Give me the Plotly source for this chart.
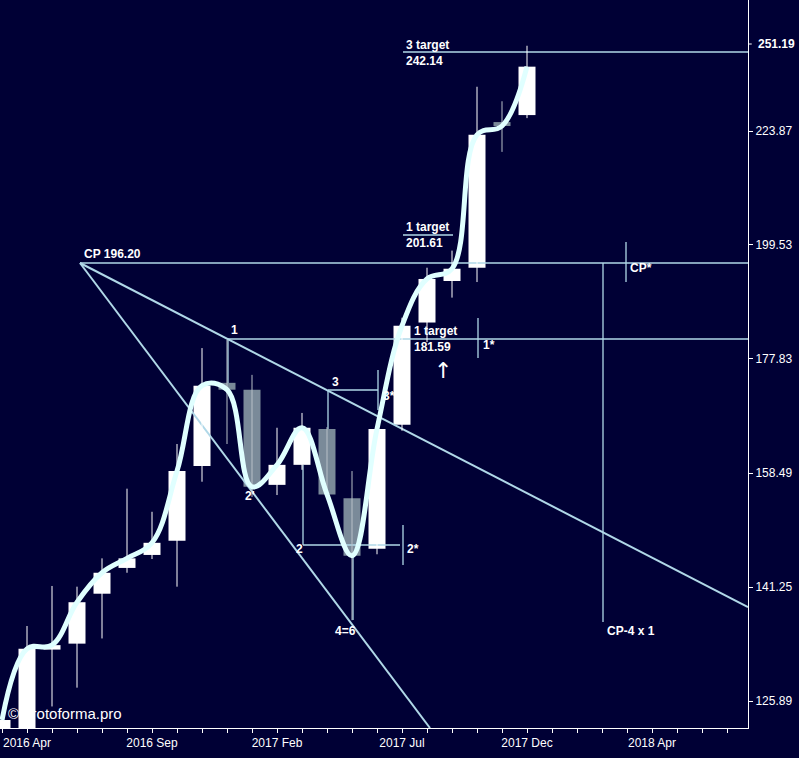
import math
import plotly.graph_objects as go

months = list(range(-1, 21))
opens  = [121.0, 121.0, 132.6, 133.4, 140.3, 144.0, 145.9, 148.0, 159.6, 173.6, 172.4, 156.6, 159.8, 165.7, 154.5, 146.8, 166.4, 184.5, 192.4, 195.0, 225.5, 227.5]
highs  = [124.0, 135.8, 141.4, 141.3, 145.4, 156.0, 152.4, 163.2, 179.8, 181.3, 175.0, 165.9, 168.4, 166.0, 158.8, 166.5, 185.4, 195.0, 198.4, 234.1, 230.7, 244.0]
lows   = [119.0, 119.0, 125.2, 127.6, 134.1, 143.3, 145.3, 141.3, 157.1, 163.2, 154.7, 155.0, 159.0, 155.0, 136.6, 146.0, 165.4, 180.9, 189.2, 192.2, 219.2, 226.8]
closes = [123.5, 132.7, 133.2, 139.1, 143.3, 145.4, 147.7, 158.8, 173.1, 172.4, 156.3, 159.8, 165.9, 155.1, 145.8, 165.7, 183.9, 192.8, 194.8, 223.0, 225.0, 238.9]

ytick_vals = [125.89, 141.25, 158.49, 177.83, 199.53, 223.87]
ytop_label = "251.19"
xtick_idx = [0, 5, 10, 15, 20, 25]
xtick_lab = ["2016 Apr", "2016 Sep", "2017 Feb", "2017 Jul", "2017 Dec", "2018 Apr"]

BG = "#000035"
LINE = "#b0d8e8"
FONT = "Liberation Sans"
PW = 25.0
def px(p):  # pixel x -> month index
    return (p - 27) / PW
def py(p):  # pixel y -> value
    return 10 ** (2.1 + (701 - p) / 2280)
def ly(p):
    return 2.1 + (701 - p) / 2280

fig = go.Figure()

def seg(x0, y0, x1, y1, color=LINE, w=1.3):
    fig.add_trace(go.Scatter(x=[px(x0), px(x1)], y=[py(y0), py(y1)], mode="lines",
                             line=dict(color=color, width=w), hoverinfo="skip", showlegend=False))

# trend lines
seg(80, 263, 748, 263)
seg(80, 263, 430, 728, w=2)
seg(80, 263, 748, 607, w=2)
seg(228, 339, 748, 339)
seg(228, 339, 228, 383)
seg(403, 235, 453, 235)
seg(403, 52, 748, 52)
seg(328, 390, 378, 390)
seg(328, 390, 328, 429)
seg(378, 370, 378, 410)
seg(303, 545, 400, 545)
seg(303, 465, 303, 545)
seg(403, 525, 403, 565)
seg(353, 556, 353, 620)
seg(478, 318, 478, 358)
seg(626, 242, 626, 282)
seg(603, 263, 603, 622)

# wicks
for up in (True, False):
    wx, wy = [], []
    for m, o, h, l, c in zip(months, opens, highs, lows, closes):
        if (c >= o) == up:
            wx += [m, m, None]
            wy += [l, h, None]
    fig.add_trace(go.Scatter(x=wx, y=wy, mode="lines",
                             line=dict(color="white" if up else "#b8c0c8", width=1),
                             hoverinfo="skip", showlegend=False))

# bodies
for up in (True, False):
    bx, bb, bh = [], [], []
    for m, o, c in zip(months, opens, closes):
        if (c >= o) == up:
            lo, hi = min(o, c), max(o, c)
            hi = max(hi, lo * 1.004)
            bx.append(m); bb.append(lo); bh.append(hi - lo)
    fig.add_trace(go.Bar(x=bx, y=bh, base=bb, width=0.68,
                         marker=dict(color="white" if up else "#7a8a99", line=dict(width=0)),
                         hoverinfo="skip", showlegend=False))

fig.add_trace(go.Scatter(x=months, y=closes, mode="lines",
                         line=dict(color="#e0ffff", width=5, shape="spline", smoothing=1.1),
                         hoverinfo="skip", showlegend=False))

def txt(x, y, s, size=12, bold=True, anchor="left", family=FONT):
    fig.add_annotation(x=px(x), y=ly(y), text=("<b>%s</b>" % s) if bold else s,
                       showarrow=False, xanchor=anchor, yanchor="middle", align="left",
                       font=dict(color="white", size=size, family=family))

txt(82, 254, "CP 196.20")
txt(229, 330, "1")
txt(330, 382, "3")
txt(381, 396, "3*")
txt(243, 496, "2'")
txt(294, 549, "2")
txt(405, 549, "2*")
txt(333, 631, "4=6")
txt(481, 345, "1*")
txt(628, 268, "CP*")
txt(605, 631, "CP-4 x 1")
txt(404, 53, "3 target<br>242.14")
txt(404, 235, "1 target<br>201.61")
txt(412, 339, "1 target<br>181.59")
txt(432, 370, "↑", size=22, bold=False, family="DejaVu Sans")
txt(6, 713, "© protoforma.pro", size=15, bold=False)

# top tick label (clamped inside like the reference)
fig.add_annotation(x=1, xref="paper", xshift=8, y=1, yref="paper", yshift=-44,
                   text="<b>%s</b>" % ytop_label, showarrow=False, xanchor="left", yanchor="middle",
                   font=dict(color="white", size=12, family=FONT))
fig.add_shape(type="line", xref="paper", yref="paper", x0=1, x1=1.005, y0=1 - 44 / 728, y1=1 - 44 / 728,
              line=dict(color="white", width=1))

fig.update_layout(
    width=799, height=758, paper_bgcolor=BG, plot_bgcolor=BG,
    margin=dict(l=0, r=51, t=0, b=30, autoexpand=False), barmode="overlay",
    xaxis=dict(range=[px(0), px(748)], tickvals=list(range(-1, 29)),
               ticktext=[xtick_lab[xtick_idx.index(i)] if i in xtick_idx else "" for i in range(-1, 29)],
               showgrid=False, zeroline=False, showline=True, linecolor="white",
               ticks="outside", ticklen=4, tickcolor="white",
               tickfont=dict(color="white", size=12, family=FONT), fixedrange=True),
    yaxis=dict(type="log", range=[ly(728), ly(0)], side="right", tickvals=ytick_vals,
               ticktext=["%.2f" % v for v in ytick_vals], showgrid=False, zeroline=False,
               showline=True, linecolor="white", ticks="outside", ticklen=4, tickcolor="white",
               tickfont=dict(color="white", size=12, family=FONT)),
)
fig.write_html("out.html", config={"displayModeBar": False},
               post_script="document.body.style.margin='0';document.body.style.background='%s';" % BG)
